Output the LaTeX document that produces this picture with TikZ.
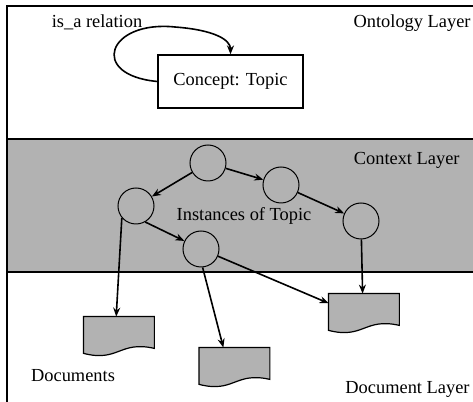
\documentclass[tikz,border=0pt]{standalone}
\usepackage{fontspec}
\setmainfont{Liberation Serif}
\usetikzlibrary{arrows.meta,calc,positioning}

\begin{document}
\begin{tikzpicture}[x=0.5pt, y=0.5pt,
		font=\fontsize{9.2}{11}\selectfont,
		inst/.style={circle, draw, line width=0.5pt, minimum size=18pt, inner sep=0pt},
		docnode/.style={rectangle, minimum width=35pt, minimum height=15.5pt, inner sep=0pt},
		layer/.style={anchor=east, inner sep=0pt},
		rel/.style={-{Stealth[length=4.5pt, width=3.5pt]}, line width=0.8pt}]
		\useasboundingbox (0,0) rectangle (473,402);
		% layers
		\fill[black!30] (7,130) rectangle (473,263);
		\draw[line width=0.8pt] (473,396) -- (7,396) -- (7,0);
		\draw[line width=0.8pt] (7,263) -- (473,263);
		\draw[line width=0.8pt] (7,130) -- (473,130);
		\node[layer] (onto) at (471,379) {Ontology Layer};
		\node[layer] (ctx) at (460,242) {Context Layer};
		\node[layer] (doclayer) at (470,13) {Document Layer};
		% ontology layer
		\node[draw, line width=0.6pt, minimum width=72.5pt, minimum height=26.5pt] (concept) at (230.5,320.5) {Concept: Topic};
		\node (isa) at (97,380) {is\_a relation};
		\draw[rel] (concept.west) .. controls (88,327) and (108,382) .. (175,375) .. controls (215,372) and (230.5,362) .. (concept.north);
		% context layer
		\node[inst] (i1) at (208,239) {};
		\node[inst] (i2) at (281,217) {};
		\node[inst] (i3) at (136,196) {};
		\node[inst] (i4) at (361,181) {};
		\node[inst] (i5) at (201,153) {};
		\node (inst) at (244,186) {Instances of Topic};
		% document layer
		\node[docnode] (d1) at (119,69.5) {};
		\node[docnode] (d2) at (234.5,38.5) {};
		\node[docnode] (d3) at (364,92.5) {};
		\foreach \d in {d1,d2,d3}
		\filldraw[fill=black!30, line width=0.6pt] (\d.north west) -- (\d.north east) -- (\d.south east) .. controls +(-35,8) and +(35,-9) .. ($(\d.south west)+(0,-5)$) -- cycle;
		\node (docs) at (73,26) {Documents};
		% relations
		\draw[rel] (i1) -- (i3);
		\draw[rel] (i1) -- (i2);
		\draw[rel] (i2) -- (i4);
		\draw[rel] (i3.-60) -- (i5);
		\draw[rel] (i3.220) -- (d1.100);
		\draw[rel] (i5.275) -- (d2.125);
		\draw[rel] (i5) -- (d3.170);
		\draw[rel] (i4) -- (d3.95);
	\end{tikzpicture}
\end{document}
